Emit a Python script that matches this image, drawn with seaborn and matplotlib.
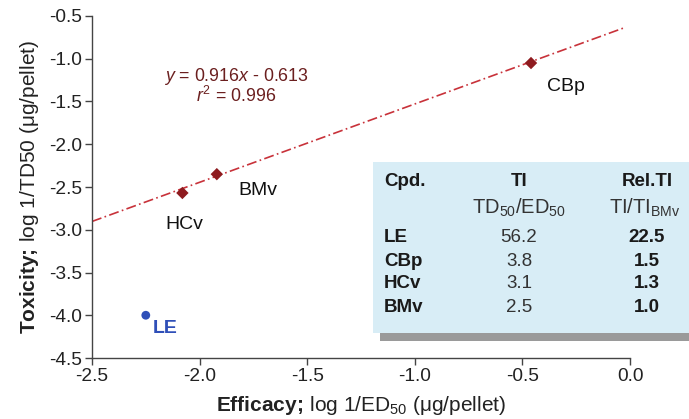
import matplotlib
matplotlib.use("Agg")
import matplotlib.pyplot as plt
import seaborn as sns
import pandas as pd
import numpy as np
from matplotlib.patches import Rectangle

# ---- data ----
compounds = ["CBp", "BMv", "HCv", "LE"]
efficacy = [-0.46, -1.92, -2.08, -2.25]
toxicity = [-1.05, -2.35, -2.57, -4.00]
slope, intercept, r2 = 0.916, -0.613, 0.996
line_x = [-2.5, -0.02]

tbl_cpd = ["LE", "CBp", "HCv", "BMv"]
tbl_ti = ["56.2", "3.8", "3.1", "2.5"]
tbl_rel = ["22.5", "1.5", "1.3", "1.0"]

xticks = [-2.5, -2.0, -1.5, -1.0, -0.5, 0.0]
yticks = [-0.5, -1.0, -1.5, -2.0, -2.5, -3.0, -3.5, -4.0, -4.5]

sns.set_style("ticks")
plt.rcParams["font.family"] = ["Liberation Sans", "DejaVu Sans"]
plt.rcParams["mathtext.fontset"] = "custom"
plt.rcParams["mathtext.rm"] = "Liberation Sans"
plt.rcParams["mathtext.it"] = "Liberation Sans:italic"
plt.rcParams["mathtext.bf"] = "Liberation Sans:bold"

W, H = 689, 419
fig = plt.figure(figsize=(W/100, H/100), dpi=100)
ax = fig.add_axes([92/W, 1-358/H, (630-92)/W, (358-16)/H])

df = pd.DataFrame({"cpd": compounds, "x": efficacy, "y": toxicity})
df["grp"] = ["fit", "fit", "fit", "LE"]

dline = pd.DataFrame({"x": line_x, "y": [slope*v + intercept for v in line_x]})
sns.lineplot(data=dline, x="x", y="y", ax=ax, color="#c8323a", lw=1.2,
             linestyle=(0, (6, 2, 1, 2)), zorder=2)
sns.scatterplot(data=df, x="x", y="y", hue="grp", style="grp",
                markers={"fit": "D", "LE": "o"},
                palette={"fit": "#8e1b1f", "LE": "#2f4fb8"},
                s=40, edgecolor="none", ax=ax, legend=False, zorder=3)

ax.set_xlim(-2.5, 0.0)
ax.set_ylim(-4.5, -0.5)
ax.set_xticks(xticks)
ax.set_yticks(yticks)
ax.set_xticklabels([f"{v:.1f}" for v in xticks], fontsize=13.8, color="#222222")
ax.set_yticklabels([f"{v:.1f}" for v in yticks], fontsize=13.8, color="#222222")
for s in ["top", "right"]:
    ax.spines[s].set_visible(False)
for s in ["left", "bottom"]:
    ax.spines[s].set_color("#444444")
    ax.spines[s].set_linewidth(1.0)
ax.tick_params(axis="both", direction="out", length=5, width=1.0, color="#444444", pad=2)

ax.set_xlabel(r"$\bf{Efficacy;}\,$log 1/ED$_{50}$ ($\mathrm{\mu}$g/pellet)", fontsize=15, color="#222222", labelpad=7)
ax.set_ylabel(r"$\bf{Toxicity;}\,$log 1/TD50 ($\mathrm{\mu}$g/pellet)", fontsize=15, color="#222222", labelpad=6)

# point labels
ax.text(-0.30, -1.32, "CBp", fontsize=14, color="#111111", ha="center", va="center")
ax.text(-1.73, -2.54, "BMv", fontsize=14, color="#111111", ha="center", va="center")
ax.text(-2.07, -2.94, "HCv", fontsize=14, color="#111111", ha="center", va="center")
ax.text(-2.217, -4.15, "LE", fontsize=14, color="#2f4fb8", ha="left", va="center", fontweight="bold")

# equation
ax.text(-1.83, -1.213, r"$y$ = 0.916$x$ - 0.613", fontsize=12.8, color="#6b1f1f", ha="center", va="center")
ax.text(-1.83, -1.44, r"$r^2$ = 0.996", fontsize=12.8, color="#6b1f1f", ha="center", va="center")

# table box (figure coordinates in pixels)
def fx(p): return p / W
def fy(p): return 1 - p / H

fig.patches.append(Rectangle((fx(380), fy(341)), fx(689-380), (341-328)/H,
                             transform=fig.transFigure, facecolor="#9a9a9a",
                             edgecolor="none", zorder=1))
fig.patches.append(Rectangle((fx(373), fy(333)), fx(689-373), (333-162)/H,
                             transform=fig.transFigure, facecolor="#d8edf6",
                             edgecolor="none", zorder=2))

tc = "#1a1a1a"
fs = 13.5
c1, c2, c3 = 384, 519, 647
fig.text(fx(c1), fy(181), "Cpd.", fontsize=fs, fontweight="bold", color=tc, ha="left", va="center")
fig.text(fx(c2), fy(181), "TI", fontsize=fs, fontweight="bold", color=tc, ha="center", va="center")
fig.text(fx(c3), fy(181), "Rel.TI", fontsize=fs, fontweight="bold", color=tc, ha="center", va="center")
fig.text(fx(c2), fy(208), r"TD$_{50}$/ED$_{50}$", fontsize=14.5, color="#333333", ha="center", va="center")
fig.text(fx(c3 - 2), fy(208), r"TI/TI$_{\mathrm{BMv}}$", fontsize=14.5, color="#333333", ha="center", va="center")
row_y = [237, 261, 284, 307]
for c, t, r, yy in zip(tbl_cpd, tbl_ti, tbl_rel, row_y):
    fig.text(fx(c1), fy(yy), c, fontsize=fs, fontweight="bold", color=tc, ha="left", va="center")
    fig.text(fx(c2), fy(yy), t, fontsize=fs, color="#333333", ha="center", va="center")
    fig.text(fx(c3), fy(yy), r, fontsize=fs, fontweight="bold", color=tc, ha="center", va="center")

fig.savefig("out.png", dpi=100)
